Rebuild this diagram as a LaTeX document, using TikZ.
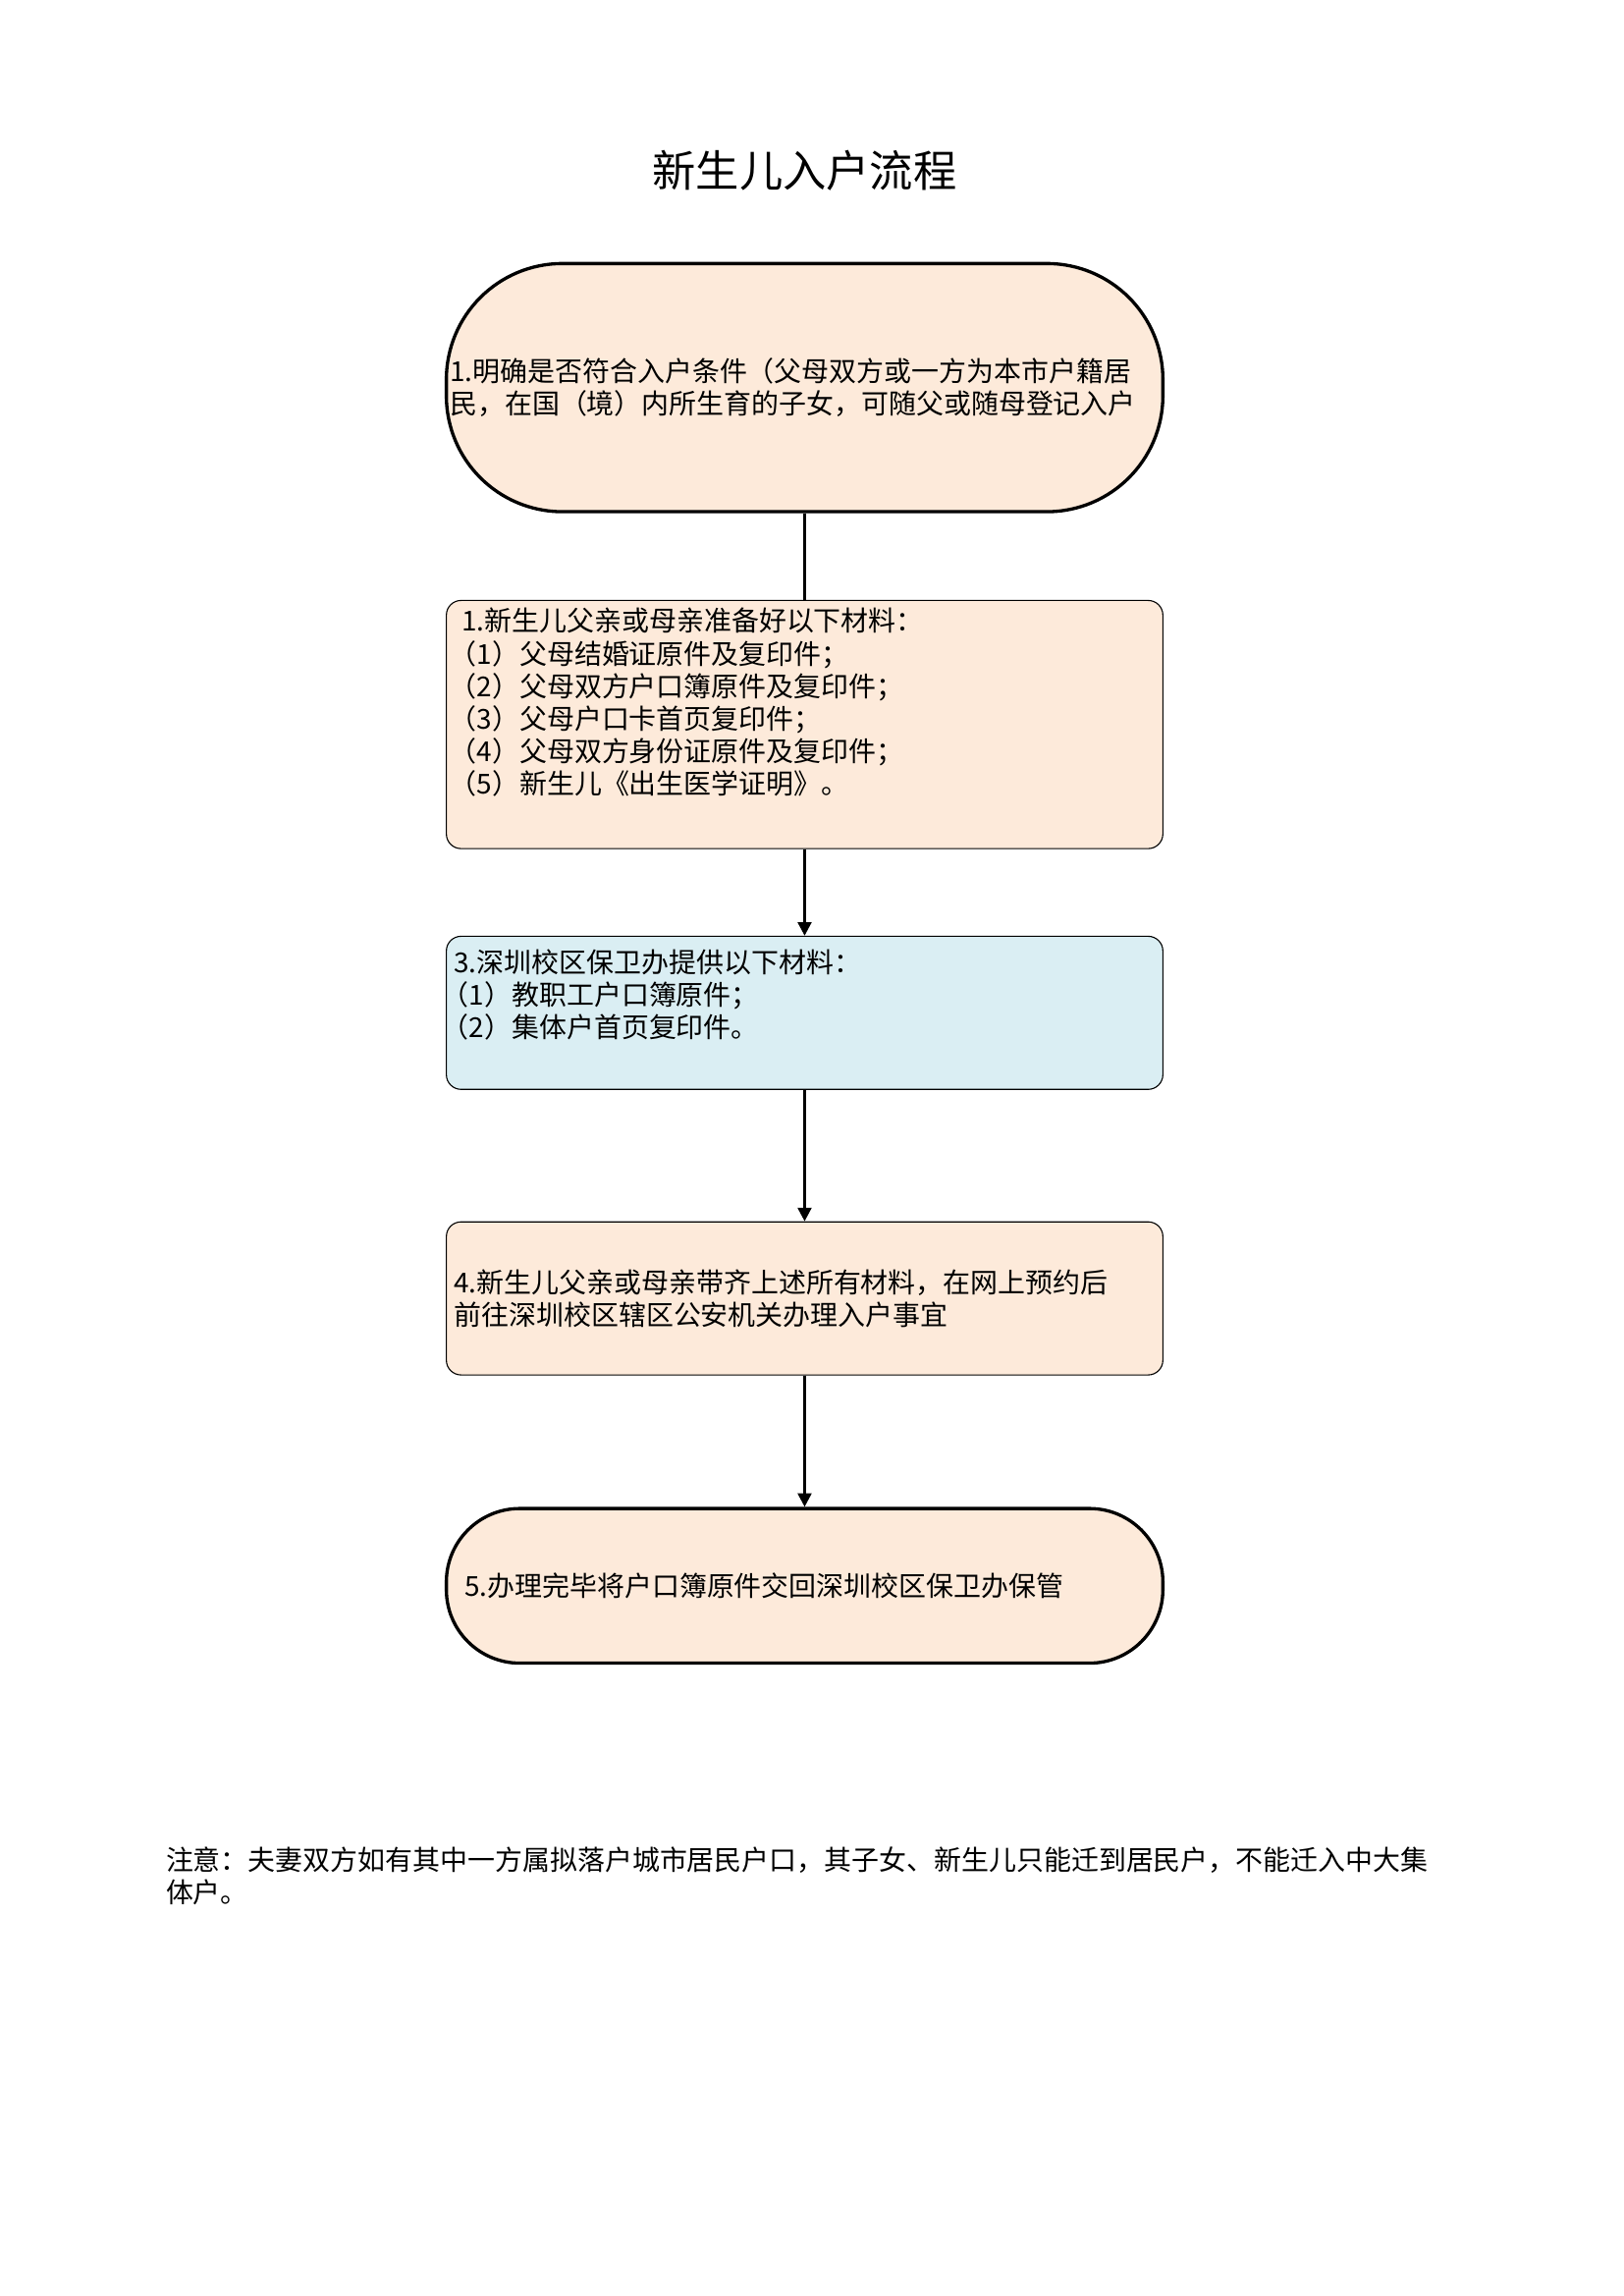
\documentclass[tikz,border=0pt]{standalone}
\usepackage{fontspec}
\setmainfont{Noto Sans CJK SC}
\usetikzlibrary{positioning, arrows.meta}
\definecolor{boxFill}{RGB}{253, 234, 218}
\definecolor{infoFill}{RGB}{218, 238, 243}
\newcommand{\lp}{\kern-0.45em（}
\tikzset{
    flow_term/.style={
        draw=black,
        line width=1.2pt,
        fill=boxFill,
        minimum width=9.27cm,
        inner sep=0pt
    },
    flow_box/.style={
        draw=black,
        line width=0.4pt,
        fill=boxFill,
        rounded corners=0.19cm,
        minimum width=9.27cm,
        inner sep=0pt
    },
    flow_text/.style={
        align=left,
        inner sep=0pt,
        font=\fontsize{10.1}{12}\selectfont
    },
    flow_line/.style={
        line width=1pt,
        draw=black
    },
    flow_edge/.style={
        flow_line,
        -{Triangle[length=5pt,width=5pt]}
    }
}
\begin{document}
\begin{tikzpicture}[node distance=1.12cm]
    \useasboundingbox (0,0) rectangle (21,-29.7);
    \node[font=\fontsize{16}{19}\selectfont] (title) at (10.41,-2.21) {新生儿入户流程};

    % steps
    \node[flow_term, minimum height=3.21cm, rounded corners=1.5cm] (b1) at (10.41,-5.014) {};
    \node[flow_box, minimum height=3.21cm, below=of b1] (b2) {};
    \node[flow_box, minimum height=1.98cm, fill=infoFill, below=of b2] (b3) {};
    \node[flow_box, minimum height=1.98cm, below=1.70cm of b3] (b4) {};
    \node[flow_term, minimum height=2cm, rounded corners=0.95cm, below=1.70cm of b4] (b5) {};

    % texts
    \node[flow_text, anchor=west] (t1) at ([xshift=0.06cm]b1.west)
        {1.明确是否符合入户条件（父母双方或一方为本市户籍居\\民，在国（境）内所生育的子女，可随父或随母登记入户};
    \node[flow_text, anchor=north west] (t2) at ([xshift=0.2cm, yshift=-0.1cm]b2.north west)
        {1.新生儿父亲或母亲准备好以下材料：\\\lp 1）父母结婚证原件及复印件；\\\lp 2）父母双方户口簿原件及复印件；\\\lp 3）父母户口卡首页复印件；\\\lp 4）父母双方身份证原件及复印件；\\\lp 5）新生儿《出生医学证明》。};
    \node[flow_text, anchor=north west] (t3) at ([xshift=0.1cm, yshift=-0.17cm]b3.north west)
        {3.深圳校区保卫办提供以下材料：\\\lp 1）教职工户口簿原件；\\\lp 2）集体户首页复印件。};
    \node[flow_text, anchor=west] (t4) at ([xshift=0.1cm]b4.west)
        {4.新生儿父亲或母亲带齐上述所有材料，在网上预约后\\前往深圳校区辖区公安机关办理入户事宜};
    \node[flow_text, anchor=west] (t5) at ([xshift=0.25cm]b5.west)
        {5.办理完毕将户口簿原件交回深圳校区保卫办保管};

    \node[flow_text, anchor=west] (note) at (2.14,-24.27)
        {注意：夫妻双方如有其中一方属拟落户城市居民户口，其子女、新生儿只能迁到居民户，不能迁入中大集\\体户。};

    \draw[flow_line] (b1) -- (b2);
    \draw[flow_edge] (b2) -- (b3);
    \draw[flow_edge] (b3) -- (b4);
    \draw[flow_edge] (b4) -- (b5);
\end{tikzpicture}
\end{document}
